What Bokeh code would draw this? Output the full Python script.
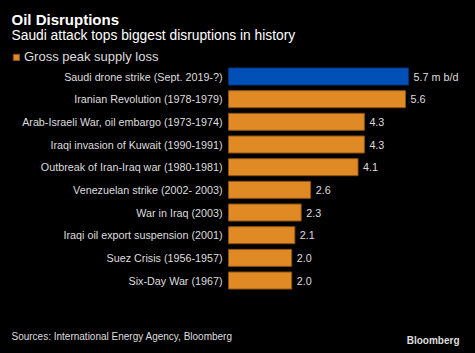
from bokeh.plotting import figure
from bokeh.models import ColumnDataSource, Range1d, Label, Legend, LegendItem
from bokeh.embed import file_html
from bokeh.resources import INLINE
from bokeh.core.properties import value

categories = [
    "Saudi drone strike (Sept. 2019-?)",
    "Iranian Revolution (1978-1979)",
    "Arab-Israeli War, oil embargo (1973-1974)",
    "Iraqi invasion of Kuwait (1990-1991)",
    "Outbreak of Iran-Iraq war (1980-1981)",
    "Venezuelan strike (2002- 2003)",
    "War in Iraq (2003)",
    "Iraqi oil export suspension (2001)",
    "Suez Crisis (1956-1957)",
    "Six-Day War (1967)",
]
supply_loss = [5.7, 5.6, 4.3, 4.3, 4.1, 2.6, 2.3, 2.1, 2.0, 2.0]
unit_suffix = " m b/d"
series_name = "Gross peak supply loss"
title = "Oil Disruptions"
subtitle = "Saudi attack tops biggest disruptions in history"
source_note = "Sources: International Energy Agency, Bloomberg"

FONT = "Liberation Sans"
ORANGE = "#e08a26"
ORANGE_LINE = "#8a5214"
BLUE = "#0050b8"
BLUE_LINE = "#00327a"
BG = "#000000"
TXT = "#dedede"

W, H = 475, 353
X0 = 228          # pixel of value 0
PX_PER_UNIT = 31.6
ROW0 = 76         # pixel centre of first row
ROW_STEP = 22.67

n = len(categories)
rows = [-i for i in range(n)]
fills = [BLUE if i == 0 else ORANGE for i in range(n)]
lines = [BLUE_LINE if i == 0 else ORANGE_LINE for i in range(n)]
labels = [f"{v:.1f}" + (unit_suffix if i == 0 else "") for i, v in enumerate(supply_loss)]

src = ColumnDataSource(dict(cat=categories, row=rows, val=supply_loss,
                            fill=fills, line=lines, lab=labels))

x_range = Range1d(-X0 / PX_PER_UNIT, (W - X0) / PX_PER_UNIT)
y_range = Range1d(-(H - ROW0) / ROW_STEP, ROW0 / ROW_STEP)

p = figure(width=W, height=H, output_backend="svg", toolbar_location=None,
           x_range=x_range, y_range=y_range,
           min_border=0, background_fill_color=BG, border_fill_color=BG)
p.styles = {"background-color": BG}
p.outline_line_color = None
p.axis.visible = False
p.grid.visible = False

bars = p.hbar(y="row", right="val", left=0, height=0.75, source=src,
              fill_color="fill", line_color="line", line_width=1)
p.text(x="val", y="row", text="lab", source=src, x_offset=5, text_baseline="middle",
       text_align="left", text_color=TXT, text_font=value(FONT), text_font_size="10.75px")
p.text(x=0, y="row", text="cat", source=src, x_offset=-6, text_baseline="middle",
       text_align="right", text_color=TXT, text_font=value(FONT), text_font_size="10.75px")

legend = Legend(items=[LegendItem(label=series_name, renderers=[bars], index=1)],
                location=(12, H - 64), orientation="horizontal",
                padding=0, margin=0, spacing=0, glyph_width=8, glyph_height=8,
                label_height=12, label_standoff=4,
                label_text_color=TXT, label_text_font=FONT, label_text_font_size="13px",
                background_fill_alpha=0, border_line_alpha=0)
p.add_layout(legend, "center")

p.add_layout(Label(x=11, y=H - 19, x_units="screen", y_units="screen", text=title,
                   text_font=FONT, text_font_size="15px", text_font_style="bold",
                   text_color="#ffffff", text_baseline="middle"))
p.add_layout(Label(x=11, y=H - 35, x_units="screen", y_units="screen", text=subtitle,
                   text_font=FONT, text_font_size="13.8px",
                   text_color="#ffffff", text_baseline="middle"))
p.add_layout(Label(x=11, y=H - 336, x_units="screen", y_units="screen", text=source_note,
                   text_font=FONT, text_font_size="10px",
                   text_color=TXT, text_baseline="middle"))
p.add_layout(Label(x=459, y=H - 340, x_units="screen", y_units="screen", text="Bloomberg",
                   text_font=FONT, text_font_size="10px", text_font_style="bold",
                   text_color=TXT, text_baseline="middle", text_align="right"))

open("out.html", "w").write(file_html(p, INLINE))
